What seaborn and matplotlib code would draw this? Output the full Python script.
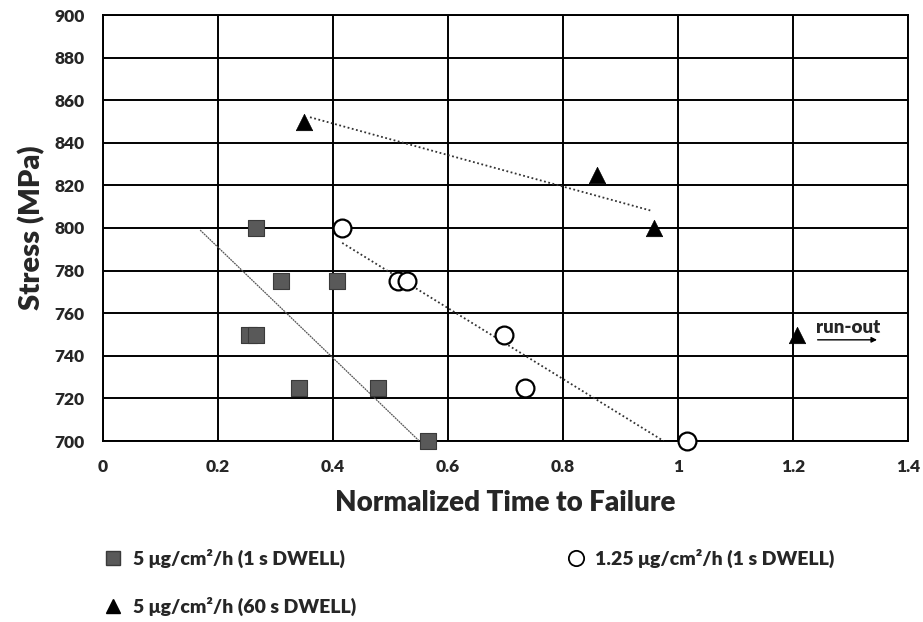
import numpy as np
import pandas as pd
import matplotlib
matplotlib.use("Agg")
import matplotlib.pyplot as plt
import seaborn as sns
from matplotlib.lines import Line2D

# ---------- data ----------
sq_time = [0.266, 0.310, 0.407, 0.254, 0.266, 0.341, 0.478, 0.565]
sq_stress = [800, 775, 775, 750, 750, 725, 725, 700]

circ_time = [0.416, 0.513, 0.529, 0.697, 0.734, 1.016]
circ_stress = [800, 775, 775, 750, 725, 700]

tri_time = [0.350, 0.859, 0.958, 1.207]
tri_stress = [850, 825, 800, 750]

# trend line end points (as drawn)
sq_trend_x, sq_trend_y = [0.169, 0.550], [799, 700]
circ_trend_x, circ_trend_y = [0.416, 0.975], [793, 700]
tri_trend_x, tri_trend_y = [0.360, 0.955], [852, 808]

labels = ["5 μg/cm²/h (1 s DWELL)", "1.25 μg/cm²/h (1 s DWELL)", "5 μg/cm²/h (60 s DWELL)"]

x_ticks = [0, 0.2, 0.4, 0.6, 0.8, 1.0, 1.2, 1.4]
x_ticklabels = ["0", "0.2", "0.4", "0.6", "0.8", "1", "1.2", "1.4"]
y_ticks = list(range(700, 901, 20))

df = pd.DataFrame({
    "time": sq_time + circ_time + tri_time,
    "stress": sq_stress + circ_stress + tri_stress,
    "series": [labels[0]] * len(sq_time) + [labels[1]] * len(circ_time) + [labels[2]] * len(tri_time),
})

# ---------- plot ----------
sns.set_style("white")
plt.rcParams["font.family"] = ["Lato", "DejaVu Sans"]
plt.rcParams["font.weight"] = "bold"

fig = plt.figure(figsize=(9.23, 6.22), dpi=100)
ax = fig.add_axes([103 / 923, 1 - 441 / 622, 805 / 923, 426 / 622])

styles = {
    labels[0]: dict(marker="s", s=125, color="#595959", edgecolor="#3a3a3a", linewidth=0.8),
    labels[1]: dict(marker="o", s=165, color="white", edgecolor="black", linewidth=1.6),
    labels[2]: dict(marker="^", s=140, color="black", edgecolor="black", linewidth=0.5),
}
for lab in labels:
    sub = df[df["series"] == lab]
    sns.scatterplot(data=sub, x="time", y="stress", ax=ax, zorder=5, clip_on=False, **styles[lab])

ax.plot(sq_trend_x, sq_trend_y, color="#555555", lw=0.9, ls=(0, (1.5, 0.6)), zorder=4)
ax.plot(circ_trend_x, circ_trend_y, color="#333333", lw=1.3, ls=(0, (1, 1.4)), zorder=4)
ax.plot(tri_trend_x, tri_trend_y, color="#333333", lw=1.3, ls=(0, (1, 1.4)), zorder=4)

# run-out note
ax.annotate("", xy=(1.351, 747.5), xytext=(1.238, 747.5),
            arrowprops=dict(arrowstyle="-|>", color="black", lw=1.0, mutation_scale=8))
ax.text(1.240, 749.5, "run-out", fontsize=13.5, fontweight="heavy", ha="left", va="bottom")

ax.set_xlim(0, 1.4)
ax.set_ylim(700, 900)
ax.set_xticks(x_ticks)
ax.set_xticklabels(x_ticklabels)
ax.set_yticks(y_ticks)
ax.grid(True, color="black", lw=1.4)
ax.set_axisbelow(True)
for sp in ax.spines.values():
    sp.set_color("black")
    sp.set_linewidth(1.4)
ax.tick_params(length=0, labelsize=12.5, pad=13)
for t in ax.get_xticklabels() + ax.get_yticklabels():
    t.set_fontweight("heavy")

ax.set_xlabel("Normalized Time to Failure", fontsize=20, fontweight="heavy", labelpad=11)
ax.set_ylabel("Stress (MPa)", fontsize=21, fontweight="heavy", labelpad=7)

handles = [
    Line2D([], [], ls="none", marker="s", ms=10, mfc="#595959", mec="#3a3a3a"),
    Line2D([], [], ls="none", marker="^", ms=10, mfc="black", mec="black"),
    Line2D([], [], ls="none", marker="o", ms=11, mfc="white", mec="black", mew=1.3),
]
fig.legend(handles, [labels[0], labels[2], labels[1]], ncol=2, frameon=False,
           loc="upper left", bbox_to_anchor=(86 / 923, 1 - 531 / 622),
           prop=dict(size=14, weight="heavy"), handletextpad=0.5,
           columnspacing=10.8, labelspacing=1.5, handlelength=1.0)

fig.savefig("out.png", dpi=100)
